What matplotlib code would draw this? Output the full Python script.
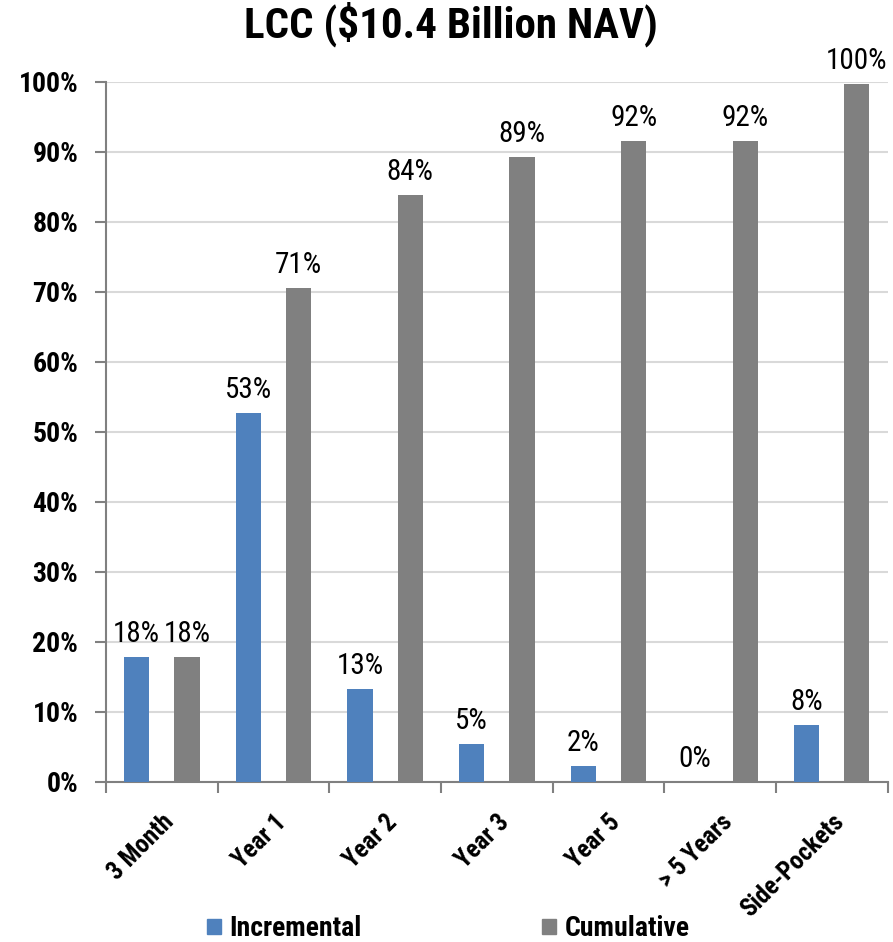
import matplotlib
matplotlib.use("Agg")
import matplotlib.pyplot as plt
from matplotlib import font_manager as fm
from matplotlib.patches import Patch
import numpy as np

categories = ["3 Month", "Year 1", "Year 2", "Year 3", "Year 5", "> 5 Years", "Side-Pockets"]
incremental = [17.9, 52.7, 13.3, 5.4, 2.3, 0.0, 8.1]
cumulative = [17.9, 70.6, 83.9, 89.3, 91.6, 91.6, 99.7]
yticks = [0, 10, 20, 30, 40, 50, 60, 70, 80, 90, 100]

names = {f.name for f in fm.fontManager.ttflist}
prefs = ["Liberation Sans Narrow", "Arial Narrow", "Roboto Condensed", "PT Sans Narrow", "Liberation Sans"]
fam = next(p for p in prefs if p in names)
plt.rcParams["font.family"] = [fam, "DejaVu Sans"]

blue = "#4f81bd"
gray = "#808080"

fig = plt.figure(figsize=(8.93, 9.42), dpi=100)
ax = fig.add_axes([0.1187, 0.1699, 0.994 - 0.1187, 0.913 - 0.1699])

x = np.arange(len(categories))
w = 0.225
ax.bar(x - 0.225, incremental, w, color=blue, zorder=3)
ax.bar(x + 0.225, cumulative, w, color=gray, zorder=3)

for xi, v in zip(x, incremental):
    ax.text(xi - 0.225, v + 1.3, f"{v:.0f}%", ha="center", va="bottom", fontsize=21, zorder=4)
for xi, v in zip(x, cumulative):
    ax.text(xi + 0.225, v + 1.3, f"{v:.0f}%", ha="center", va="bottom", fontsize=21, zorder=4, clip_on=False)

ax.set_xlim(-0.5, len(categories) - 0.5)
ax.set_ylim(0, 100)
ax.set_yticks(yticks)
ax.set_yticklabels([f"{t}%" for t in yticks], fontsize=20, fontweight="bold")
ax.yaxis.grid(True, color="#d9d9d9", linewidth=1.5, zorder=0)
ax.set_axisbelow(True)

ax.set_xticks(np.arange(len(categories) + 1) - 0.5, minor=False)
ax.set_xticklabels([])
ax.tick_params(axis="x", length=8, width=1.5, color="#808080")
ax.set_xticks(x, minor=True)
ax.set_xticklabels(categories, minor=True, rotation=45, ha="right", rotation_mode="anchor",
                   fontsize=18, fontweight="bold")
ax.tick_params(axis="x", which="minor", length=0, pad=20)
ax.tick_params(axis="y", length=8, width=1.5, color="#808080", pad=12)

for s in ["top", "right"]:
    ax.spines[s].set_visible(False)
for s in ["left", "bottom"]:
    ax.spines[s].set_color("#808080")
    ax.spines[s].set_linewidth(1.5)

fig.text(0.505, 0.9597, "LCC ($10.4 Billion NAV)", ha="center", va="baseline", fontsize=31, fontweight="bold")

handles = [Patch(color=blue, label="Incremental"), Patch(color=gray, label="Cumulative")]
fig.legend(handles=handles, loc="center", bbox_to_anchor=(0.502, 0.014), ncol=2, frameon=False,
           prop={"size": 20, "weight": "bold"}, handlelength=0.5, handleheight=0.5,
           handletextpad=0.3, columnspacing=6.5, borderpad=0)

fig.savefig("out.png", dpi=100)
